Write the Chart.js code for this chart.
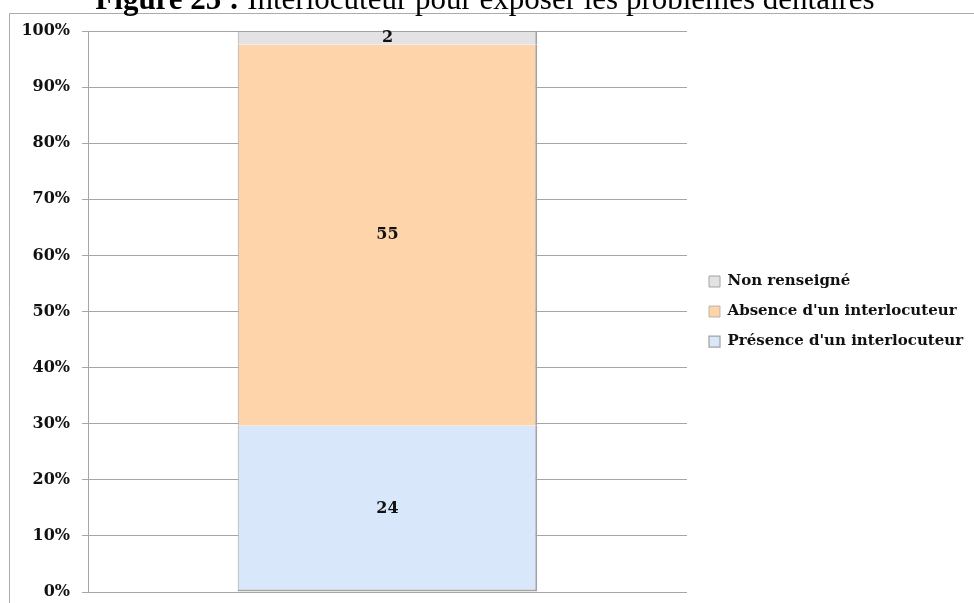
<!DOCTYPE html>
<html lang="fr">
<head>
<meta charset="utf-8">
<title>Figure 25</title>
<script src="https://cdn.jsdelivr.net/npm/chart.js@4/dist/chart.umd.min.js"></script>
<style>
  html, body { margin: 0; padding: 0; background: #fff; }
  #zone { position: relative; width: 974px; height: 603px; overflow: hidden; }
</style>
</head>
<body>
<div id="zone"><canvas id="graphique" width="974" height="603"></canvas></div>
<script>
// Données (effectifs bruts, le graphique est en 100 %)
const categories = [''];
const nomsSeries = ["Présence d'un interlocuteur", "Absence d'un interlocuteur", 'Non renseigné'];
const presence = [24];
const absence = [55];
const nonRenseigne = [2];
const graduations = [0, 10, 20, 30, 40, 50, 60, 70, 80, 90, 100];

const titreGras = 'Figure 25 :';
const titreNormal = ' Interlocuteur pour exposer les problèmes dentaires';

const COULEURS = ['#d9e7fb', '#fed5aa', '#e3e3e3'];
const POLICE = '"DejaVu Serif", serif';

// total par catégorie pour ramener chaque série en pourcentage
const totaux = categories.map((_, i) => presence[i] + absence[i] + nonRenseigne[i]);
const enPourcent = serie => serie.map((v, i) => v / totaux[i] * 100);

const effectifs = [presence, absence, nonRenseigne];

// Cadre gris + titre coupé en haut, comme sur la capture d'origine
const decor = {
  id: 'decor',
  beforeDraw(chart) {
    const c = chart.ctx;
    c.save();
    c.strokeStyle = '#ababab';
    c.lineWidth = 1;
    c.beginPath();
    c.moveTo(9.5, 603);
    c.lineTo(9.5, 13.5);
    c.lineTo(974, 13.5);
    c.stroke();

    c.fillStyle = '#000';
    c.textBaseline = 'alphabetic';
    c.font = 'bold 31px "Liberation Serif", serif';
    let l1 = c.measureText(titreGras).width;
    c.font = '31px "Liberation Serif", serif';
    let l2 = c.measureText(titreNormal).width;
    let x0 = 485 - (l1 + l2) / 2;
    c.font = 'bold 31px "Liberation Serif", serif';
    c.fillText(titreGras, x0, 9);
    c.font = '31px "Liberation Serif", serif';
    c.fillText(titreNormal, x0 + l1, 9);
    c.restore();
  }
};

// Effectifs écrits au milieu de chaque segment
const etiquettes = {
  id: 'etiquettes',
  afterDatasetsDraw(chart) {
    const c = chart.ctx;
    c.save();
    c.fillStyle = '#111';
    c.font = 'bold 16px ' + POLICE;
    c.textAlign = 'center';
    c.textBaseline = 'middle';
    chart.data.datasets.forEach((ds, d) => {
      chart.getDatasetMeta(d).data.forEach((el, i) => {
        c.fillText(String(effectifs[d][i]), el.x, (el.y + el.base) / 2);
      });
    });
    c.restore();
  }
};

// Largeur fixe pour la légende (sinon elle se colle au texte)
const largeurLegende = {
  id: 'largeurLegende',
  beforeLayout(chart) {
    const lg = chart.legend;
    if (lg && !lg._largeurFixe) {
      const fitOrig = lg.fit;
      lg.fit = function () { fitOrig.call(this); this.width = 280; };
      lg._largeurFixe = true;
    }
  }
};

new Chart(document.getElementById('graphique'), {
  type: 'bar',
  data: {
    labels: categories,
    datasets: [
      { label: nomsSeries[0], data: enPourcent(presence), backgroundColor: COULEURS[0],
        borderColor: '#a3a3a3', borderWidth: { left: 1, right: 2, bottom: 2, top: 0 }, borderSkipped: false },
      { label: nomsSeries[1], data: enPourcent(absence), backgroundColor: COULEURS[1],
        borderColor: '#a3a3a3', borderWidth: { left: 1, right: 2, bottom: 0, top: 0 }, borderSkipped: false },
      { label: nomsSeries[2], data: enPourcent(nonRenseigne), backgroundColor: COULEURS[2],
        borderColor: '#a3a3a3', borderWidth: { left: 1, right: 2, bottom: 0, top: 1 }, borderSkipped: false }
    ]
  },
  options: {
    responsive: false,
    animation: false,
    layout: { padding: { top: 31, bottom: 11, left: 0, right: 0 } },
    datasets: { bar: { barPercentage: 0.5, categoryPercentage: 1 } },
    scales: {
      x: { stacked: true, display: false },
      y: {
        stacked: true, min: 0, max: 100,
        afterBuildTicks: s => { s.ticks = graduations.map(v => ({ value: v })); },
        // pas de marge automatique pour les libellés : la zone suit le padding
        afterFit: s => { s.width = 88; s.paddingTop = 0; s.paddingBottom = 0; },
        ticks: {
          padding: 12, color: '#111',
          font: { family: POLICE, size: 16, weight: 'bold' },
          callback: v => v + '%'
        },
        grid: { color: '#a6a6a6', tickLength: 6, tickColor: '#a6a6a6' },
        border: { display: true, color: '#a6a6a6' }
      },
      // petit axe vide à droite : juste l'écart entre la grille et la légende
      marge: {
        type: 'linear', position: 'right', display: true,
        ticks: { display: false }, grid: { display: false }, border: { display: false },
        afterFit: s => { s.width = 7; s.paddingTop = 0; s.paddingBottom = 0; }
      }
    },
    plugins: {
      legend: {
        position: 'right',
        reverse: true,
        labels: {
          boxWidth: 11, boxHeight: 11, padding: 15, color: '#111',
          font: { family: POLICE, size: 15, weight: 'bold' }
        }
      },
      tooltip: { enabled: false }
    }
  },
  plugins: [decor, etiquettes, largeurLegende]
});
</script>
</body>
</html>
